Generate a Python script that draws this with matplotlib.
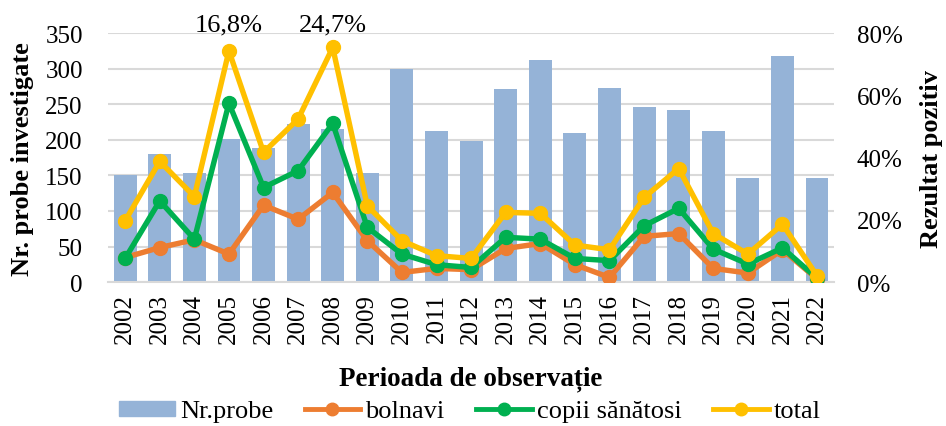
import matplotlib.pyplot as plt
import matplotlib.transforms as mtransforms
from matplotlib.lines import Line2D
from matplotlib.patches import Patch
import numpy as np

plt.rcParams['font.family'] = ['Liberation Serif', 'DejaVu Serif']

# Data
years = [str(y) for y in range(2002, 2023)]
nr_probe = [150, 180, 153, 201, 188, 222, 215, 153, 300, 212, 198,
            271, 312, 210, 273, 246, 242, 212, 146, 318, 147]
bolnavi = [7.9, 11.1, 13.6, 9.0, 24.7, 20.2, 28.8, 13.3, 3.1, 4.4, 4.0,
           10.8, 12.4, 5.6, 1.5, 14.7, 15.6, 4.4, 2.9, 10.4, 1.0]
copii = [7.6, 26.1, 13.8, 57.5, 30.4, 35.8, 51.0, 17.6, 9.0, 5.6, 4.7,
         14.4, 13.8, 7.6, 6.9, 18.1, 23.7, 10.6, 5.8, 11.0, 1.2]
total = [19.7, 38.8, 27.5, 74.3, 41.7, 52.4, 75.4, 24.5, 13.3, 8.5, 7.6,
         22.4, 22.1, 11.9, 10.4, 27.2, 36.5, 15.6, 9.0, 18.6, 2.0]
peak_labels = {3: "16,8%", 6: "24,7%"}

c_bar = "#95B3D7"
c_orange = "#ED7D31"
c_green = "#00B050"
c_yellow = "#FFC000"

fig = plt.figure(figsize=(9.46, 4.27), dpi=100)
ax = fig.add_axes([0.114, 0.337, 0.768, 0.583])
x = np.arange(len(years))

ax.bar(x, nr_probe, width=0.66, color=c_bar, zorder=2)
ax.set_ylim(0, 350)
ax.set_yticks(range(0, 351, 50))
ax.set_xlim(-0.5, len(years) - 0.5)
ax.set_xticks(x)
ax.set_xticklabels(years, rotation=90, fontsize=18)
ax.tick_params(axis='y', labelsize=18, length=0, pad=18)
ax.tick_params(axis='x', length=0, pad=8)
ax.grid(axis='y', color="#D9D9D9", linewidth=1.5, zorder=0)
ax.set_axisbelow(True)
for s in ["top", "left", "right"]:
    ax.spines[s].set_visible(False)
ax.spines["bottom"].set_color("#D9D9D9")
ax.spines["bottom"].set_linewidth(1.5)

ax2 = ax.twinx()
for vals, col in [(bolnavi, c_orange), (copii, c_green), (total, c_yellow)]:
    ax2.plot(x, np.array(vals) / 100, color=col, linewidth=3.9,
             marker='o', markersize=10, zorder=3)
ax2.set_ylim(0, 0.8)
ax2.set_yticks([0, 0.2, 0.4, 0.6, 0.8])
ax2.set_yticklabels(["0%", "20%", "40%", "60%", "80%"])
ax2.tick_params(axis='y', labelsize=18, length=0, pad=16)
for s in ["top", "left", "right", "bottom"]:
    ax2.spines[s].set_visible(False)

trans = mtransforms.blended_transform_factory(ax.transData, ax.transAxes)
for i, lab in peak_labels.items():
    ax.text(i, 1.036, lab, transform=trans, ha='center', va='center', fontsize=19)

fig.text(0.024, 0.628, "Nr. probe investigate", rotation=90, ha='center',
         va='center', fontsize=19, fontweight='bold')
fig.text(0.985, 0.628, "Rezultat pozitiv", rotation=90, ha='center',
         va='center', fontsize=19, fontweight='bold')
fig.text(0.498, 0.113, "Perioada de observație", ha='center', va='center',
         fontsize=19.5, fontweight='bold')

handles = [
    Patch(color=c_bar),
    Line2D([], [], color=c_orange, linewidth=3.5, marker='o', markersize=9),
    Line2D([], [], color=c_green, linewidth=3.5, marker='o', markersize=9),
    Line2D([], [], color=c_yellow, linewidth=3.5, marker='o', markersize=9),
]
fig.legend(handles, ["Nr.probe", "bolnavi", "copii sănătosi", "total"],
           loc='center', bbox_to_anchor=(0.497, 0.034), ncol=4, frameon=False,
           fontsize=19, handlelength=2.1, handleheight=0.5,
           columnspacing=1.2, handletextpad=0.2, borderpad=0.1)

fig.savefig("out.png", dpi=100)
